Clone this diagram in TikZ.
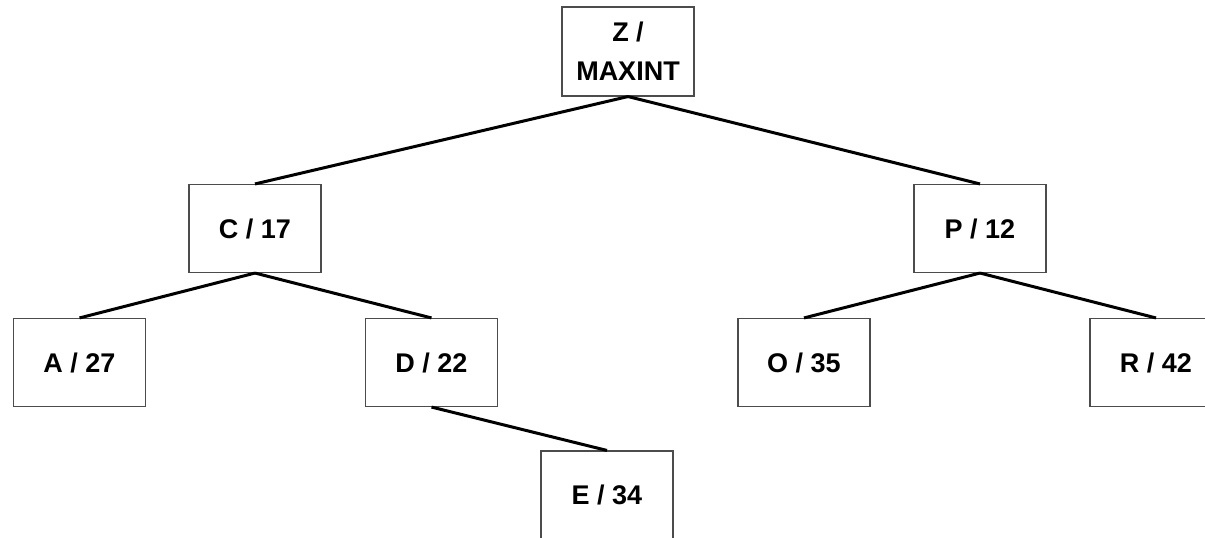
\documentclass[tikz,border=0pt]{standalone}
\usepackage{fontspec}
\setmainfont{Liberation Sans}
\begin{document}
\begin{tikzpicture}[x=1pt,y=-1pt,
  box/.style={draw=black!70, line width=1.1pt, minimum width=132pt, minimum height=88pt, inner sep=0pt, align=center, font=\fontsize{27}{39}\selectfont\bfseries},
  edge/.style={line width=3pt, black}]
\useasboundingbox (0,0) rectangle (1205,538);
\clip (0,0) rectangle (1205,538);
\node[box, minimum height=89pt] (Z) at (628,51.5) {Z /\\MAXINT};
\node[box] (C) at (255,228.5) {C / 17};
\node[box] (P) at (980,228.5) {P / 12};
\node[box] (A) at (79.5,362.5) {A / 27};
\node[box] (D) at (431.5,362.5) {D / 22};
\node[box] (O) at (804,362.5) {O / 35};
\node[box] (R) at (1156,362.5) {R / 42};
\node[box] (E) at (607,495) {E / 34};
\draw[edge] (Z.south) -- (C.north);
\draw[edge] (Z.south) -- (P.north);
\draw[edge] (C.south) -- (A.north);
\draw[edge] (C.south) -- (D.north);
\draw[edge] (D.south) -- (E.north);
\draw[edge] (P.south) -- (O.north);
\draw[edge] (P.south) -- (R.north);
\end{tikzpicture}
\end{document}
